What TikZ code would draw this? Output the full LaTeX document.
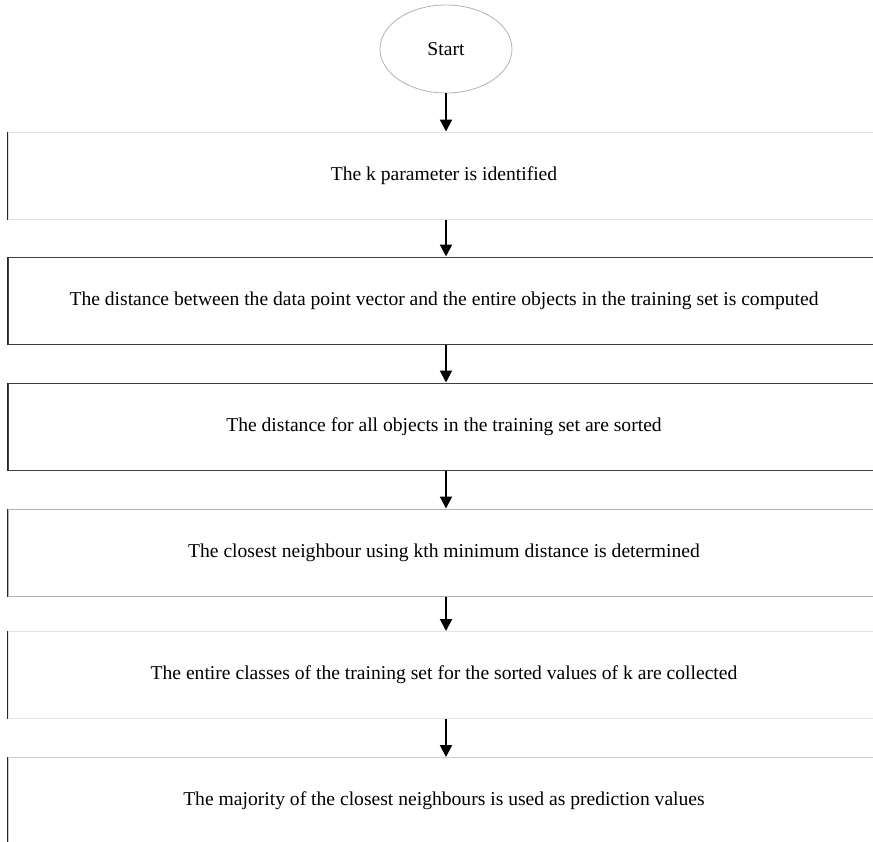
\documentclass[tikz,border=0pt]{standalone}
\usepackage{fontspec}
\setmainfont{Liberation Serif}
\usetikzlibrary{arrows.meta,shapes.geometric}

\begin{document}
\begin{tikzpicture}[
    x=0.5pt, y=-0.5pt,
    stepbox/.style={rectangle, draw=#1, line width=0.5pt, minimum width=436pt,
        minimum height=43.5pt, inner sep=0pt, font=\fontsize{9.8}{11}\selectfont},
    start node/.style={ellipse, draw=gray!60, line width=0.4pt, minimum width=66pt,
        minimum height=44pt, inner sep=0pt, font=\fontsize{9.8}{11}\selectfont},
    flow/.style={-{Triangle[length=6pt,width=6pt]}, line width=1pt, black},
    left edge/.style={line width=0.8pt, black!85}
]
\useasboundingbox (0,0) rectangle (873,841);
\clip (0,0) rectangle (873,841);

% Start
\node[start node] (start) at (446,49) {Start};

% Steps
\node[stepbox=gray!25] (s1) at (444,175.5) {The k parameter is identified};
\node[stepbox=black!75] (s2) at (444,300.5) {The distance between the data point vector and the entire objects in the training set is computed};
\node[stepbox=black!75] (s3) at (444,426.5) {The distance for all objects in the training set are sorted};
\node[stepbox=gray!60] (s4) at (444,552.5) {The closest neighbour using kth minimum distance is determined};
\node[stepbox=gray!20] (s5) at (444,675) {The entire classes of the training set for the sorted values of k are collected};
\node[stepbox=gray!40] (s6) at (444,801) {The majority of the closest neighbours is used as prediction values};

% Left edges
\draw[left edge] (s1.north west) -- (s1.south west);
\draw[left edge] (s2.north west) -- (s2.south west);
\draw[left edge] (s3.north west) -- (s3.south west);
\draw[left edge] (s4.north west) -- (s4.south west);
\draw[left edge] (s5.north west) -- (s5.south west);
\draw[left edge] (s6.north west) -- (s6.south west);

% Arrows
\draw[flow] (start.south) -- (start.south |- s1.north);
\draw[flow] (start.south |- s1.south) -- (start.south |- s2.north);
\draw[flow] (start.south |- s2.south) -- (start.south |- s3.north);
\draw[flow] (start.south |- s3.south) -- (start.south |- s4.north);
\draw[flow] (start.south |- s4.south) -- (start.south |- s5.north);
\draw[flow] (start.south |- s5.south) -- (start.south |- s6.north);

\end{tikzpicture}
\end{document}
